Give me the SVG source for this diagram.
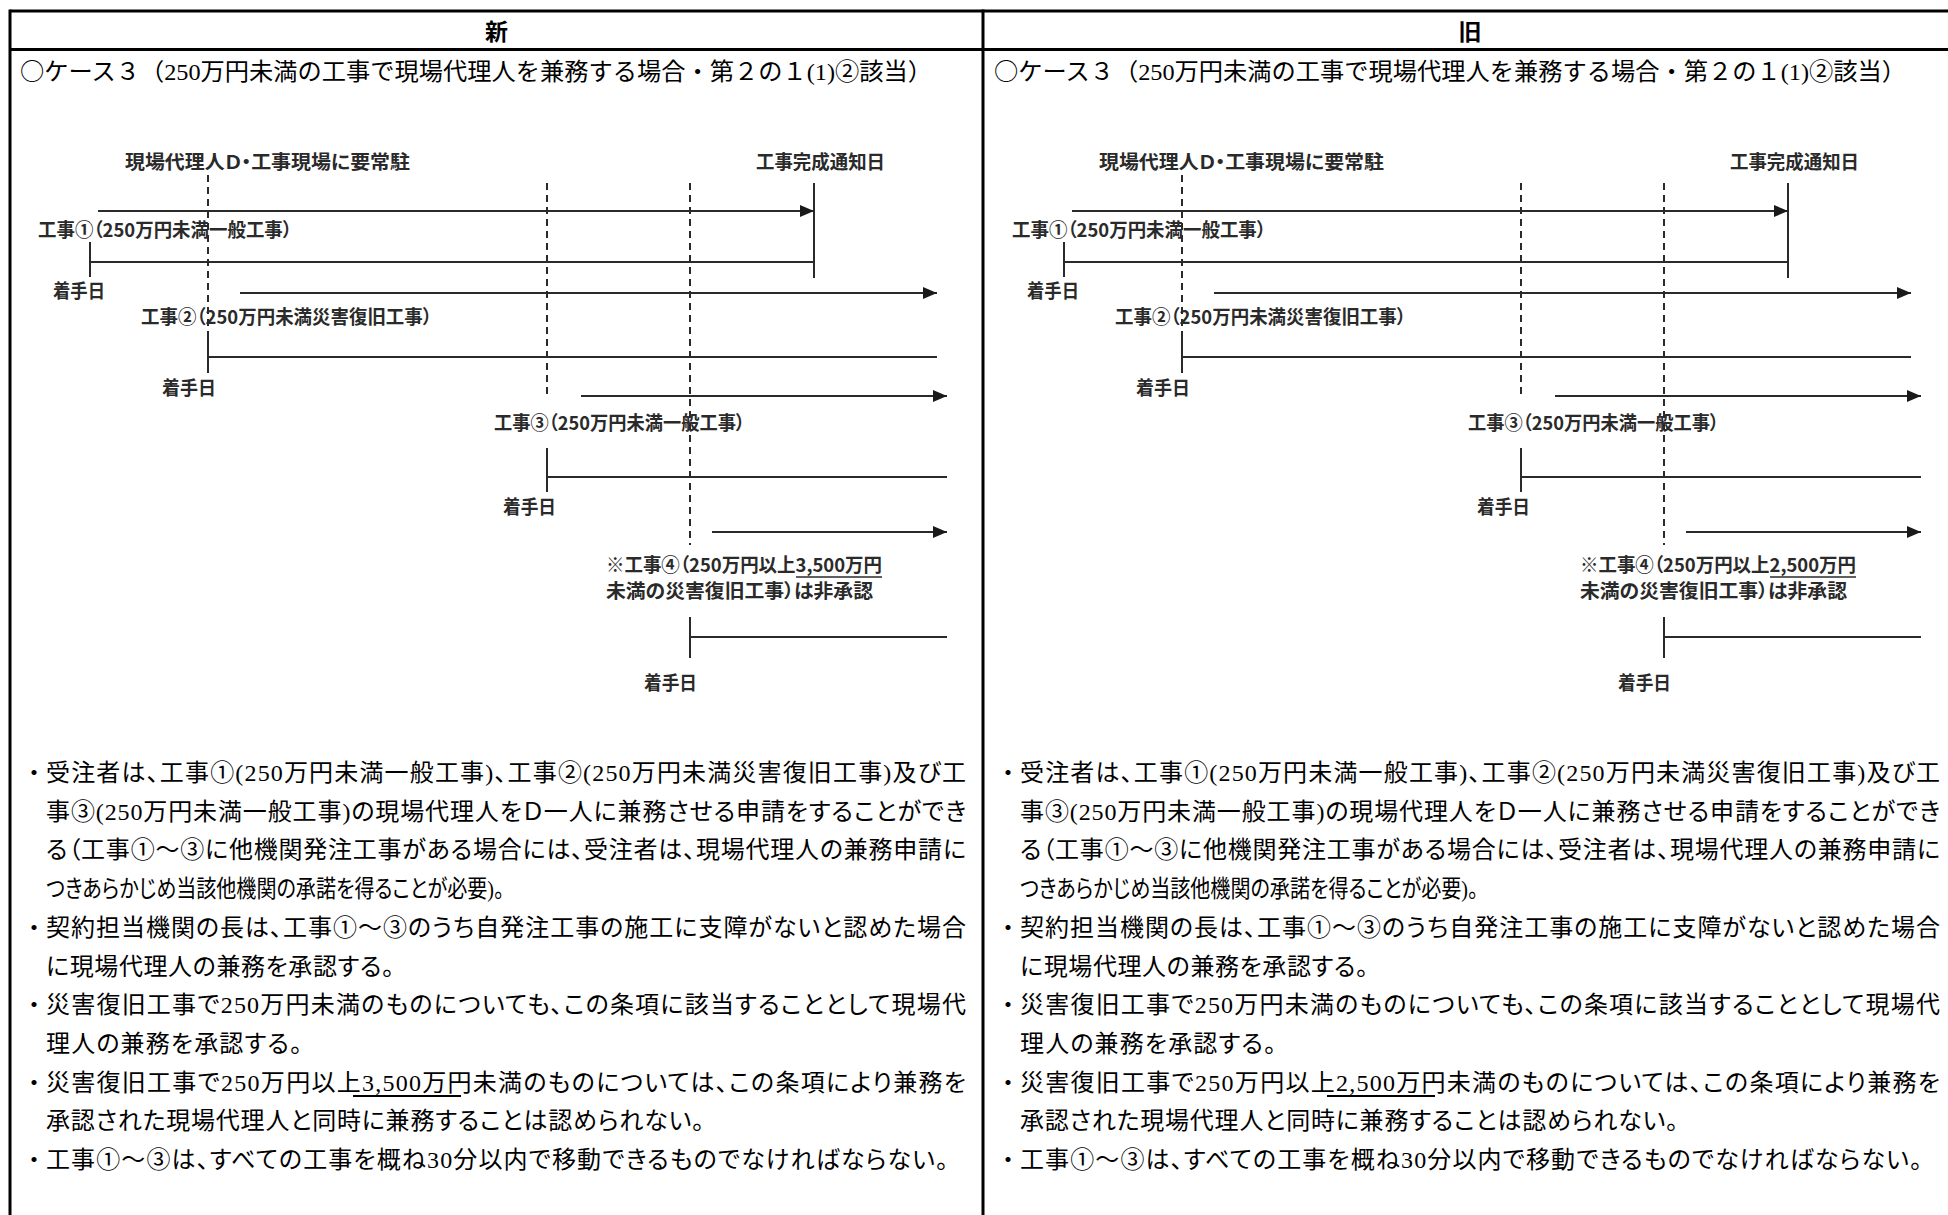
<svg xmlns="http://www.w3.org/2000/svg" width="1948" height="1215" viewBox="0 0 1948 1215">
<style>
.frame{stroke:#000;stroke-width:3;fill:none}
.hd{font-family:'Noto Sans CJK JP',sans-serif;font-size:23px;font-weight:700;text-anchor:middle;fill:#000}
.tt,.bd{font-family:'Liberation Serif','Noto Sans CJK JP',serif;font-size:24px;fill:#000}
.bd{font-feature-settings:"palt"}
.cj{font-family:'Noto Sans CJK JP',serif}
.bl{font-family:'Noto Sans CJK JP',serif;font-size:24px;fill:#000}
.lb{font-family:'Noto Sans CJK JP',sans-serif;font-size:19px;font-weight:700;fill:#2a2a2a;font-feature-settings:"palt"}
.ln{stroke:#2a2a2a;stroke-width:2;fill:none}
.dash{stroke:#2a2a2a;stroke-width:2;stroke-dasharray:7 5;fill:none}
.arr{marker-end:url(#ah)}
.ul{stroke:#000;stroke-width:2}
.ul2{stroke:#2a2a2a;stroke-width:1.5}
</style>
<defs>
<marker id="ah" markerUnits="userSpaceOnUse" markerWidth="14" markerHeight="12" viewBox="0 0 14 12" refX="14" refY="6" orient="auto">
<path d="M0,0 L14,6 L0,12 z" fill="#1a1a1a"/>
</marker>
</defs>
<rect width="1948" height="1215" fill="#fff"/>
<g id="table">
<line class="frame" x1="10" y1="11" x2="1948" y2="11"/>
<line class="frame" x1="10" y1="49.5" x2="1948" y2="49.5"/>
<line class="frame" x1="10" y1="9.5" x2="10" y2="1215"/>
<line class="frame" x1="983" y1="9.5" x2="983" y2="1215"/>
<text id="hd-new" class="hd" x="496.5" y="40">新</text>
<text id="hd-old" class="hd" x="1470" y="40">旧</text>
</g>

<g id="col-new">
<text id="new-title" class="tt" x="20" y="80" textLength="912" lengthAdjust="spacingAndGlyphs"><tspan class="cj">○</tspan>ケース３（250万円未満の工事で現場代理人を兼務する場合・第２の１(1)②該当）</text>
<g id="new-connectors">
<path class="dash" d="M208,175 V338"/>
<path class="dash" d="M547,183 V397"/>
<path class="dash" d="M690,183 V545"/>
<path class="ln" d="M814,183 V278"/>
<path class="ln arr" d="M98,211 H814"/>
<path class="ln" d="M90,242 V277 M90,262 H814"/>
<path class="ln arr" d="M240,293 H937"/>
<path class="ln" d="M208,338 V373 M208,357 H937"/>
<path class="ln arr" d="M581,396 H947"/>
<path class="ln" d="M547,448 V492 M547,477 H947"/>
<path class="ln arr" d="M712,532 H947"/>
<path class="ln" d="M690,617 V658 M690,637 H947"/>
</g>
<g id="new-n-resident"><text class="lb" x="125" y="169" textLength="285" lengthAdjust="spacingAndGlyphs">現場代理人Ｄ・工事現場に要常駐</text></g>
<g id="new-n-complete"><text class="lb" x="756" y="169" textLength="129" lengthAdjust="spacingAndGlyphs">工事完成通知日</text></g>
<g id="new-n-w1"><text class="lb" x="38" y="237" textLength="254" lengthAdjust="spacingAndGlyphs">工事①（250万円未満一般工事）</text></g>
<g id="new-n-s1"><text class="lb" x="53" y="298" textLength="52" lengthAdjust="spacingAndGlyphs">着手日</text></g>
<g id="new-n-w2"><text class="lb" x="141" y="324" textLength="291" lengthAdjust="spacingAndGlyphs">工事②（250万円未満災害復旧工事）</text></g>
<g id="new-n-s2"><text class="lb" x="162" y="395" textLength="54" lengthAdjust="spacingAndGlyphs">着手日</text></g>
<g id="new-n-w3"><text class="lb" x="494" y="430" textLength="251" lengthAdjust="spacingAndGlyphs">工事③（250万円未満一般工事）</text></g>
<g id="new-n-s3"><text class="lb" x="503" y="514" textLength="53" lengthAdjust="spacingAndGlyphs">着手日</text></g>
<g id="new-n-w4">
<text class="lb" x="606" y="572" textLength="276" lengthAdjust="spacingAndGlyphs">※工事④（250万円以上3,500万円</text>
<text class="lb" x="606" y="598" textLength="267" lengthAdjust="spacingAndGlyphs">未満の災害復旧工事）は非承認</text>
<line class="ul2" x1="796" y1="577" x2="882" y2="577"/>
</g>
<g id="new-n-s4"><text class="lb" x="644" y="690" textLength="53" lengthAdjust="spacingAndGlyphs">着手日</text></g>
<g id="new-body">
<text class="bl" x="22" y="781">・</text>
<text class="bd" x="46" y="781" textLength="920" lengthAdjust="spacing">受注者は、工事①(250万円未満一般工事)、工事②(250万円未満災害復旧工事)及び工</text>
<text class="bd" x="46" y="819.7" textLength="920" lengthAdjust="spacing">事③(250万円未満一般工事)の現場代理人をＤ一人に兼務させる申請をすることができ</text>
<text class="bd" x="46" y="858.4" textLength="920" lengthAdjust="spacing">る（工事①～③に他機関発注工事がある場合には、受注者は、現場代理人の兼務申請に</text>
<text class="bd" x="46" y="897.1" textLength="458" lengthAdjust="spacingAndGlyphs">つきあらかじめ当該他機関の承諾を得ることが必要)。</text>
<text class="bl" x="22" y="935.8">・</text>
<text class="bd" x="46" y="935.8" textLength="920" lengthAdjust="spacing">契約担当機関の長は、工事①～③のうち自発注工事の施工に支障がないと認めた場合</text>
<text class="bd" x="46" y="974.5" textLength="348" lengthAdjust="spacing">に現場代理人の兼務を承認する。</text>
<text class="bl" x="22" y="1013.2">・</text>
<text class="bd" x="46" y="1013.2" textLength="920" lengthAdjust="spacing">災害復旧工事で250万円未満のものについても、この条項に該当することとして現場代</text>
<text class="bd" x="46" y="1051.9" textLength="256" lengthAdjust="spacing">理人の兼務を承認する。</text>
<text class="bl" x="22" y="1090.6">・</text>
<text class="bd" x="46" y="1090.6" textLength="920" lengthAdjust="spacing">災害復旧工事で250万円以上3,500万円未満のものについては、この条項により兼務を</text>
<line class="ul" x1="353" y1="1096" x2="461" y2="1096"/>
<text class="bd" x="46" y="1129.3" textLength="658" lengthAdjust="spacing">承認された現場代理人と同時に兼務することは認められない。</text>
<text class="bl" x="22" y="1168">・</text>
<text class="bd" x="46" y="1168" textLength="902" lengthAdjust="spacing">工事①～③は、すべての工事を概ね30分以内で移動できるものでなければならない。</text>
</g>
</g>

<g id="col-old" transform="translate(974,0)">
<text id="old-title" class="tt" x="20" y="80" textLength="912" lengthAdjust="spacingAndGlyphs"><tspan class="cj">○</tspan>ケース３（250万円未満の工事で現場代理人を兼務する場合・第２の１(1)②該当）</text>
<g id="old-connectors">
<path class="dash" d="M208,175 V338"/>
<path class="dash" d="M547,183 V397"/>
<path class="dash" d="M690,183 V545"/>
<path class="ln" d="M814,183 V278"/>
<path class="ln arr" d="M98,211 H814"/>
<path class="ln" d="M90,242 V277 M90,262 H814"/>
<path class="ln arr" d="M240,293 H937"/>
<path class="ln" d="M208,338 V373 M208,357 H937"/>
<path class="ln arr" d="M581,396 H947"/>
<path class="ln" d="M547,448 V492 M547,477 H947"/>
<path class="ln arr" d="M712,532 H947"/>
<path class="ln" d="M690,617 V658 M690,637 H947"/>
</g>
<g id="old-n-resident"><text class="lb" x="125" y="169" textLength="285" lengthAdjust="spacingAndGlyphs">現場代理人Ｄ・工事現場に要常駐</text></g>
<g id="old-n-complete"><text class="lb" x="756" y="169" textLength="129" lengthAdjust="spacingAndGlyphs">工事完成通知日</text></g>
<g id="old-n-w1"><text class="lb" x="38" y="237" textLength="254" lengthAdjust="spacingAndGlyphs">工事①（250万円未満一般工事）</text></g>
<g id="old-n-s1"><text class="lb" x="53" y="298" textLength="52" lengthAdjust="spacingAndGlyphs">着手日</text></g>
<g id="old-n-w2"><text class="lb" x="141" y="324" textLength="291" lengthAdjust="spacingAndGlyphs">工事②（250万円未満災害復旧工事）</text></g>
<g id="old-n-s2"><text class="lb" x="162" y="395" textLength="54" lengthAdjust="spacingAndGlyphs">着手日</text></g>
<g id="old-n-w3"><text class="lb" x="494" y="430" textLength="251" lengthAdjust="spacingAndGlyphs">工事③（250万円未満一般工事）</text></g>
<g id="old-n-s3"><text class="lb" x="503" y="514" textLength="53" lengthAdjust="spacingAndGlyphs">着手日</text></g>
<g id="old-n-w4">
<text class="lb" x="606" y="572" textLength="276" lengthAdjust="spacingAndGlyphs">※工事④（250万円以上2,500万円</text>
<text class="lb" x="606" y="598" textLength="267" lengthAdjust="spacingAndGlyphs">未満の災害復旧工事）は非承認</text>
<line class="ul2" x1="796" y1="577" x2="882" y2="577"/>
</g>
<g id="old-n-s4"><text class="lb" x="644" y="690" textLength="53" lengthAdjust="spacingAndGlyphs">着手日</text></g>
<g id="old-body">
<text class="bl" x="22" y="781">・</text>
<text class="bd" x="46" y="781" textLength="920" lengthAdjust="spacing">受注者は、工事①(250万円未満一般工事)、工事②(250万円未満災害復旧工事)及び工</text>
<text class="bd" x="46" y="819.7" textLength="920" lengthAdjust="spacing">事③(250万円未満一般工事)の現場代理人をＤ一人に兼務させる申請をすることができ</text>
<text class="bd" x="46" y="858.4" textLength="920" lengthAdjust="spacing">る（工事①～③に他機関発注工事がある場合には、受注者は、現場代理人の兼務申請に</text>
<text class="bd" x="46" y="897.1" textLength="458" lengthAdjust="spacingAndGlyphs">つきあらかじめ当該他機関の承諾を得ることが必要)。</text>
<text class="bl" x="22" y="935.8">・</text>
<text class="bd" x="46" y="935.8" textLength="920" lengthAdjust="spacing">契約担当機関の長は、工事①～③のうち自発注工事の施工に支障がないと認めた場合</text>
<text class="bd" x="46" y="974.5" textLength="348" lengthAdjust="spacing">に現場代理人の兼務を承認する。</text>
<text class="bl" x="22" y="1013.2">・</text>
<text class="bd" x="46" y="1013.2" textLength="920" lengthAdjust="spacing">災害復旧工事で250万円未満のものについても、この条項に該当することとして現場代</text>
<text class="bd" x="46" y="1051.9" textLength="256" lengthAdjust="spacing">理人の兼務を承認する。</text>
<text class="bl" x="22" y="1090.6">・</text>
<text class="bd" x="46" y="1090.6" textLength="920" lengthAdjust="spacing">災害復旧工事で250万円以上2,500万円未満のものについては、この条項により兼務を</text>
<line class="ul" x1="353" y1="1096" x2="461" y2="1096"/>
<text class="bd" x="46" y="1129.3" textLength="658" lengthAdjust="spacing">承認された現場代理人と同時に兼務することは認められない。</text>
<text class="bl" x="22" y="1168">・</text>
<text class="bd" x="46" y="1168" textLength="902" lengthAdjust="spacing">工事①～③は、すべての工事を概ね30分以内で移動できるものでなければならない。</text>
</g>
</g>
</svg>
